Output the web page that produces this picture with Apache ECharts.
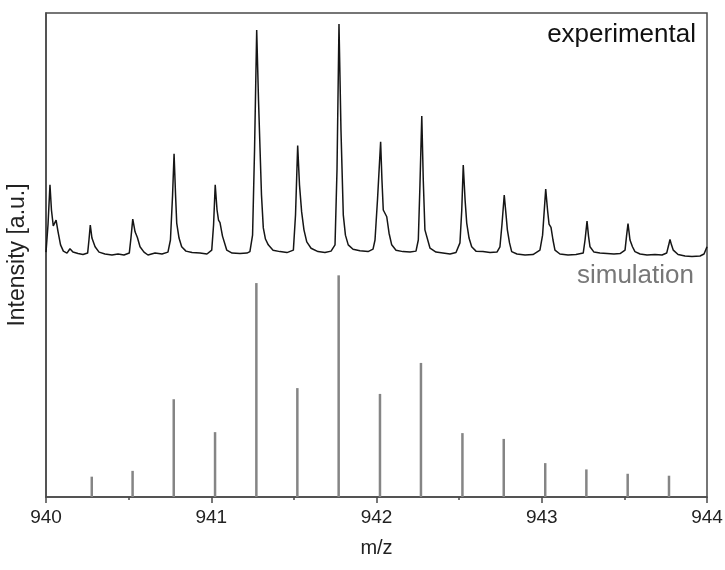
<!DOCTYPE html>
<html>
<head>
<meta charset="utf-8">
<script src="https://cdn.jsdelivr.net/npm/echarts@6/dist/echarts.min.js"></script>
<style>html,body{margin:0;padding:0;background:#fff}#c{width:725px;height:570px}</style>
</head>
<body>
<div id="c"></div>
<script>
// x-axis ticks (m/z)
const xTicks = [940, 941, 942, 943, 944];

// simulated isotope pattern (stick spectrum)
const simMz = [940.277, 940.524, 940.773, 941.023, 941.273, 941.521, 941.771, 942.021, 942.269, 942.520, 942.770, 943.021, 943.270, 943.520, 943.770];
const simInt = [4.2, 5.4, 20.2, 13.4, 44.2, 22.5, 45.8, 21.3, 27.7, 13.2, 12.0, 7.0, 5.7, 4.8, 4.4];

// experimental trace, m/z values
const expMz = [
940.000,940.012,940.024,940.033,940.044,940.061,940.073,940.088,940.105,940.127,940.145,940.163,940.194,940.224,
940.252,940.260,940.268,940.278,940.297,940.321,940.357,940.399,940.436,940.472,
940.504,940.514,940.525,940.539,940.553,940.569,940.593,940.617,940.660,940.702,940.738,
940.753,940.766,940.775,940.784,940.791,940.805,940.821,940.847,940.884,940.932,940.974,
941.003,941.014,941.024,941.035,941.044,941.053,941.068,941.094,941.126,941.174,941.216,941.234,
941.250,941.262,941.275,941.286,941.295,941.304,941.315,941.328,941.345,941.374,941.416,941.458,
941.497,941.510,941.523,941.534,941.547,941.561,941.578,941.604,941.646,941.688,941.725,
941.749,941.761,941.773,941.785,941.799,941.812,941.829,941.858,941.900,941.949,941.979,
941.991,942.006,942.025,942.033,942.041,942.062,942.076,942.092,942.118,942.160,942.203,942.239,
942.253,942.263,942.274,942.283,942.293,942.324,942.360,942.402,942.445,942.481,
942.505,942.516,942.525,942.536,942.546,942.560,942.576,942.602,942.644,942.687,942.729,
942.747,942.759,942.773,942.784,942.792,942.805,942.818,942.850,942.899,942.947,
942.989,943.005,943.024,943.035,943.044,943.056,943.068,943.080,943.110,943.159,943.207,
943.251,943.262,943.274,943.283,943.292,943.316,943.352,943.395,943.437,943.474,
943.504,943.513,943.522,943.534,943.549,943.564,943.595,943.637,943.685,943.728,
943.756,943.767,943.776,943.785,943.796,943.825,943.867,943.909,943.958,943.982,944.000
];
// experimental trace, intensity values
const expInt = [
50.6,56.2,64.5,59.3,56.0,57.2,54.8,52.1,50.8,50.4,51.3,50.6,50.3,50.1,
50.4,53.1,56.2,53.5,51.7,50.6,50.2,50.0,50.2,50.0,
50.4,53.5,57.4,54.8,53.6,51.7,50.6,50.0,50.4,50.2,50.6,
53.1,62.4,70.9,62.4,56.6,53.5,51.7,50.8,50.5,50.4,50.2,
51.0,56.2,64.5,59.3,57.2,56.7,53.9,51.0,50.4,50.3,50.4,50.7,
54.1,71.7,96.5,82.0,72.1,62.4,55.6,53.3,52.1,51.0,50.7,50.5,
51.0,58.3,72.6,64.5,58.9,55.2,52.7,51.4,50.7,50.5,50.8,
52.1,67.6,97.7,75.8,58.3,54.1,52.1,51.2,50.9,50.7,51.2,
53.1,61.4,73.4,65.5,59.3,57.9,54.5,52.1,51.0,50.7,50.6,50.8,
53.1,64.5,78.7,65.5,55.2,51.4,50.6,50.4,50.2,50.5,
52.5,59.3,68.6,61.4,56.6,53.5,51.7,50.8,50.7,50.5,50.6,
51.7,56.2,62.4,58.3,55.2,52.5,50.7,50.2,50.0,50.1,
51.0,54.1,63.6,59.3,56.4,55.7,53.1,51.0,50.2,50.0,50.1,
50.4,53.1,57.0,53.9,51.7,50.6,50.4,50.3,50.2,50.3,
51.0,53.9,56.5,53.1,51.7,50.7,50.2,50.0,50.1,50.0,
50.4,51.9,53.2,52.1,51.0,50.1,49.8,49.7,49.8,50.2,51.7
];

const expData = expMz.map((m, i) => [m, expInt[i]]);
const simData = simMz.map((m, i) => [m, simInt[i]]);

const chart = echarts.init(document.getElementById('c'), null, {renderer: 'canvas'});
const font = '"Liberation Sans", Arial, sans-serif';
chart.setOption({
  animation: false,
  backgroundColor: '#fff',
  grid: {left: 46, right: 18, top: 13, bottom: 73, containLabel: false, outerBoundsMode: 'none',
         show: true, borderColor: '#4a4a4a', borderWidth: 1.5, backgroundColor: 'transparent'},
  xAxis: {
    type: 'value', min: xTicks[0], max: xTicks[xTicks.length - 1], interval: 1,
    name: 'm/z', nameLocation: 'middle', nameGap: 41,
    nameTextStyle: {fontFamily: font, fontSize: 20, color: '#222'},
    axisLine: {lineStyle: {color: '#4a4a4a', width: 1.5}},
    axisTick: {show: true, length: 6, lineStyle: {color: '#4a4a4a', width: 1.5}},
    minorTick: {show: true, splitNumber: 2, length: 3, lineStyle: {color: '#4a4a4a', width: 1.5}},
    axisLabel: {fontFamily: font, fontSize: 19, color: '#222', margin: 11, formatter: v => String(v)},
    splitLine: {show: false}
  },
  yAxis: {
    type: 'value', min: 0, max: 100,
    name: 'Intensity [a.u.]', nameLocation: 'middle', nameGap: 17,
    nameTextStyle: {fontFamily: font, fontSize: 23, color: '#222'},
    axisLine: {show: true, lineStyle: {color: '#4a4a4a', width: 1.5}},
    axisTick: {show: false}, axisLabel: {show: false}, splitLine: {show: false}
  },
  graphic: [
    {type: 'text', right: 29, top: 22, style: {text: 'experimental', fontFamily: font, fontSize: 26, fill: '#111', textAlign: 'right'}},
    {type: 'text', right: 31, top: 263, style: {text: 'simulation', fontFamily: font, fontSize: 26, fill: '#777', textAlign: 'right'}}
  ],
  series: [
    {type: 'bar', data: simData, barWidth: 2.5, itemStyle: {color: '#858585'}, silent: true},
    {type: 'line', data: expData, showSymbol: false, symbol: 'none', lineStyle: {color: '#151515', width: 1.5}, silent: true}
  ]
});
</script>
</body>
</html>
